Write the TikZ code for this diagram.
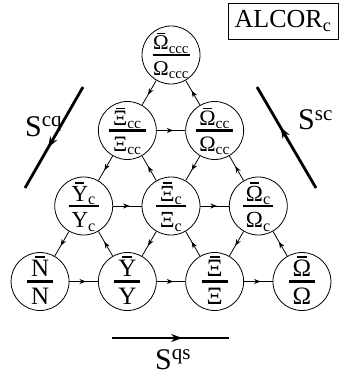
\documentclass[tikz,border=0pt]{standalone}
\usepackage{fontspec}
\setmainfont{Liberation Serif}
\usetikzlibrary{arrows.meta,decorations.markings}
\newcommand{\obar}[1]{\ooalign{#1\cr\hidewidth\raisebox{0.74em}{\rule{0.4em}{0.07em}}\hidewidth\cr}}
\newcommand{\sbs}[1]{\textsubscript{#1}}
\tikzset{
  hcirc/.style={circle, draw, line width=0.8pt, minimum size=58pt, inner sep=0pt},
  fbar/.style={line width=2.7pt},
  toplab/.style={anchor=base, inner sep=0pt},
  botlab/.style={anchor=north, inner sep=0pt},
  conn/.style={line width=0.8pt, postaction={decorate},
    decoration={markings, mark=at position 0.58 with {\arrow{Stealth[length=6.5pt,width=5pt]}}}},
  bigarr/.style={line width=2.8pt, postaction={decorate},
    decoration={markings, mark=at position 0.6 with {\arrow{Stealth[length=11pt,width=8pt]}}}},
  slab/.style={anchor=base west, inner sep=0pt, font=\fontsize{30pt}{30pt}\selectfont},
}
% name, position, font size, bar half width, top, bottom
\newcommand{\hadron}[6]{%
  \node[hcirc] (#1) at (#2) {};
  \draw[fbar] ([xshift=-#4]#1.center) -- ([xshift=#4]#1.center);
  \node[toplab, font=\fontsize{#3}{#3}\selectfont] (#1-t) at ([yshift=5pt]#1.center) {#5};
  \node[botlab, font=\fontsize{#3}{#3}\selectfont] (#1-b) at ([yshift=-6.5pt]#1.center) {#6};
}
\begin{document}
\begin{tikzpicture}[x=1pt,y=1pt]
\useasboundingbox (0,0) rectangle (341,-374);
% lattice
\hadron{Occc}{171,-55}{21pt}{18.5pt}{\obar{Ω}\sbs{ccc}}{Ω\sbs{ccc}}
\hadron{Xcc}{127.35,-130.5}{22pt}{18.5pt}{\obar{Ξ}\sbs{cc}}{Ξ\sbs{cc}}
\hadron{Occ}{214.65,-130.5}{22pt}{18.5pt}{\obar{Ω}\sbs{cc}}{Ω\sbs{cc}}
\hadron{Yc}{83.7,-206}{23pt}{15pt}{\obar{Y}\sbs{c}}{Y\sbs{c}}
\hadron{Xc}{171,-206}{23pt}{15pt}{\obar{Ξ}\sbs{c}}{Ξ\sbs{c}}
\hadron{Oc}{258.3,-206}{23pt}{15pt}{\obar{Ω}\sbs{c}}{Ω\sbs{c}}
\hadron{N}{40.05,-281.5}{25pt}{13pt}{\obar{N}}{N}
\hadron{Y}{127.35,-281.5}{25pt}{13pt}{\obar{Y}}{Y}
\hadron{X}{214.65,-281.5}{25pt}{13pt}{\obar{Ξ}}{Ξ}
\hadron{O}{301.95,-281.5}{25pt}{13pt}{\obar{Ω}}{Ω}
% horizontal
\draw[conn] (Xcc) -- (Occ);
\draw[conn] (Yc) -- (Xc);
\draw[conn] (Xc) -- (Oc);
\draw[conn] (N) -- (Y);
\draw[conn] (Y) -- (X);
\draw[conn] (X) -- (O);
% down-left
\draw[conn] (Occc) -- (Xcc);
\draw[conn] (Xcc) -- (Yc);
\draw[conn] (Occ) -- (Xc);
\draw[conn] (Yc) -- (N);
\draw[conn] (Xc) -- (Y);
\draw[conn] (Oc) -- (X);
% up-left
\draw[conn] (Occ) -- (Occc);
\draw[conn] (Xc) -- (Xcc);
\draw[conn] (Oc) -- (Occ);
\draw[conn] (Y) -- (Yc);
\draw[conn] (X) -- (Xc);
\draw[conn] (O) -- (Oc);
% big arrows
\coordinate (cq1) at (83,-87);
\coordinate (cq2) at (25,-188);
\coordinate (sc1) at (316,-188);
\coordinate (sc2) at (257,-87);
\coordinate (qs1) at (112,-338);
\coordinate (qs2) at (229,-338);
\draw[bigarr] (cq1) -- (cq2);
\draw[bigarr] (sc1) -- (sc2);
\draw[bigarr] (qs1) -- (qs2);
\node[slab] (Scq) at (25,-136) {S\textsuperscript{cq}};
\node[slab] (Ssc) at (298,-130) {S\textsuperscript{sc}};
\node[slab] (Sqs) at (155,-369) {S\textsuperscript{qs}};
% title box
\node[draw, line width=0.8pt, minimum width=110pt, minimum height=36pt, inner sep=0pt,
      font=\fontsize{26pt}{26pt}\selectfont] (title) at (283,-21) {ALCOR\sbs{c}};
\end{tikzpicture}
\end{document}
